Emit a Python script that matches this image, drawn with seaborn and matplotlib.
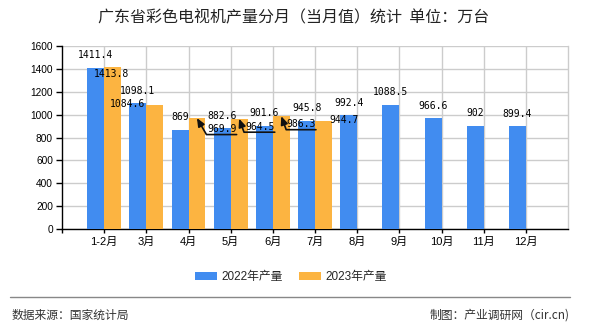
import matplotlib
matplotlib.use("Agg")
import matplotlib.pyplot as plt
from matplotlib.lines import Line2D
import seaborn as sns
import pandas as pd

# ---- data ----
months = ['1-2月', '3月', '4月', '5月', '6月', '7月', '8月', '9月', '10月', '11月', '12月']
v2022 = [1411.4, 1098.1, 869, 882.6, 901.6, 945.8, 992.4, 1088.5, 966.6, 902, 899.4]
v2023 = [1413.8, 1084.6, 969.9, 964.5, 986.3, 944.7]
series = ['2022年产量', '2023年产量']
yticks = [0, 200, 400, 600, 800, 1000, 1200, 1400, 1600]
title = '广东省彩色电视机产量分月（当月值）统计  单位：万台'
source = '数据来源：国家统计局'
maker = '制图：产业调研网（cir.cn)'

BLUE = '#418CF0'
ORANGE = '#FCB441'

sns.set_style('white')
plt.rcParams['font.family'] = ['Liberation Sans', 'Noto Sans CJK SC', 'DejaVu Sans']

rows = []
for m, v in zip(months, v2022):
    rows.append({'month': m, 'value': v, 'year': series[0]})
for m, v in zip(months, v2023):
    rows.append({'month': m, 'value': v, 'year': series[1]})
df = pd.DataFrame(rows)

fig = plt.figure(figsize=(5.9, 3.3), dpi=100)
ax = fig.add_axes([62 / 590, 1 - 229 / 330, (568 - 62) / 590, (229 - 46) / 330])

sns.barplot(data=df, x='month', y='value', hue='year', order=months,
            hue_order=series, palette=[BLUE, ORANGE], saturation=1,
            width=0.8, ax=ax, legend=True, zorder=3, linewidth=0, edgecolor='none')

ax.set_xlim(-1, 11)
ax.set_ylim(0, 1600)
ax.set_yticks(yticks)
ax.set_xticks(range(len(months)))
ax.set_xticklabels(months, fontsize=8, family=['Liberation Sans', 'Noto Sans CJK SC'])
ax.set_yticklabels([str(t) for t in yticks], fontsize=7.3)
ax.set_xlabel('')
ax.set_ylabel('')
ax.grid(True, color='#cccccc', lw=1, zorder=0)
ax.set_axisbelow(True)
ax.spines['top'].set_visible(False)
ax.spines['right'].set_color('#cccccc')
ax.spines['right'].set_linewidth(1)
ax.spines['left'].set_color('black')
ax.spines['bottom'].set_color('black')
ax.spines['left'].set_linewidth(1)
ax.spines['bottom'].set_linewidth(1)
ax.tick_params(axis='y', which='both', direction='out', length=4.5, width=1, pad=2, colors='black', left=True)
ax.tick_params(axis='x', which='both', direction='out', length=3, width=1, pad=3, colors='black', bottom=True)
ax.set_xticks([-1], minor=True)

# ---- value labels ----
mono = 'DejaVu Sans Mono'
for i, v in enumerate(v2022):
    ax.annotate(f'{v:g}', xy=(i - 0.2, v), xytext=(0, 12.5), textcoords='offset pixels',
                ha='center', va='center', fontsize=7, family=mono, color='black', zorder=5)

# label placement of the 2023 series (pixel offsets, arrow angle or None)
place23 = [(-1, -7, None), (-27, 1, None), (25, -11, 120), (21, -8, 110), (20, -8, 110), (21, 1, None)]
for i, v in enumerate(v2023):
    dx, dy, ang = place23[i]
    kw = {}
    if ang is not None:
        kw['arrowprops'] = dict(arrowstyle='-|>,head_length=0.7,head_width=0.3', color='#111111', lw=1.2,
                                connectionstyle=f'angle,angleA=0,angleB={ang},rad=0',
                                relpos=(1, -0.05), shrinkA=0, shrinkB=0, patchA=None)
    ax.annotate(f'{v:g}', xy=(i + 0.2, v), xytext=(dx, dy), textcoords='offset pixels',
                ha='center', va='center', fontsize=7, family=mono, color='black', zorder=6, **kw)

# ---- legend ----
handles, labels = ax.get_legend_handles_labels()
ax.get_legend().remove()
fig.legend(handles, labels, loc='center', bbox_to_anchor=(291 / 590, 1 - 277 / 330),
           ncol=2, frameon=False, handlelength=1.87, handleheight=0.76,
           handletextpad=0.35, columnspacing=1.4, borderaxespad=0, borderpad=0,
           prop={'family': ['Liberation Sans', 'Noto Sans CJK SC'], 'size': 8.5})

# ---- title and footer ----
fig.text(294 / 590, 1 - 18 / 330, title, ha='center', va='center', fontsize=11.5,
         color='#222222', family=['Noto Sans CJK SC', 'DejaVu Sans'])
fig.add_artist(Line2D([10 / 590, 570 / 590], [1 - 297 / 330, 1 - 297 / 330],
                      color='#888888', lw=1, transform=fig.transFigure))
fig.text(12 / 590, 1 - 315 / 330, source, ha='left', va='center', fontsize=8.5,
         color='#333333', family=['Noto Sans CJK SC', 'DejaVu Sans'])
fig.text(570 / 590, 1 - 315 / 330, maker, ha='right', va='center', fontsize=8.5,
         color='#333333', family=['Noto Sans CJK SC', 'DejaVu Sans'])

fig.savefig('out.png', dpi=100)
